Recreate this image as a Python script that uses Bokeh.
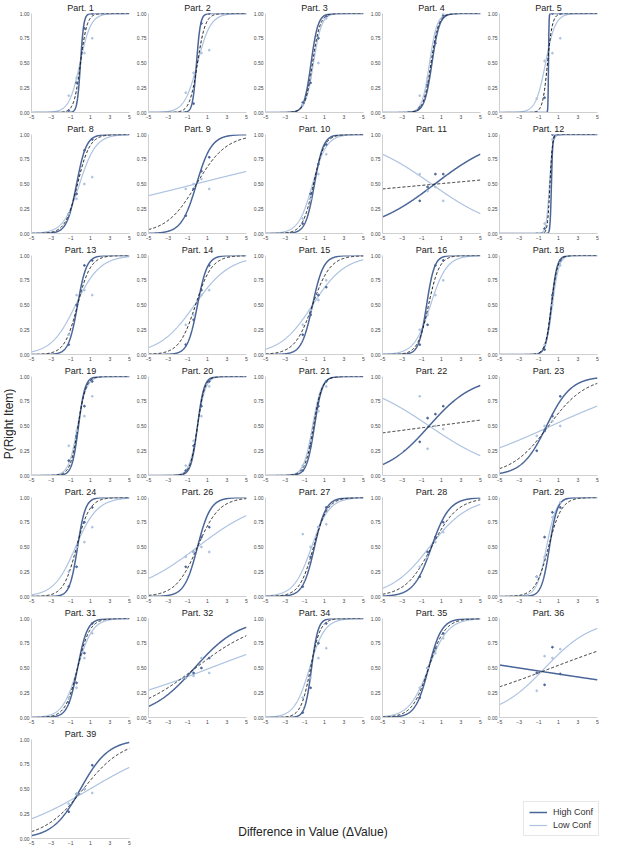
import numpy as np
from bokeh.plotting import figure
from bokeh.layouts import row, column
from bokeh.models import Range1d, FixedTicker, NumeralTickFormatter, Label, Legend, LegendItem
from bokeh.embed import file_html
from bokeh.resources import INLINE

# ---------------- data ----------------
panel_ids = [1, 2, 3, 4, 5, 8, 9, 10, 11, 12, 13, 14, 15, 16, 18, 19, 20, 21, 22, 23,
             24, 26, 27, 28, 29, 31, 32, 34, 35, 36, 39]

# logistic fit parameters: slope k and midpoint m, p = 1/(1+exp(-k(x-m)))
high_k = [6.0, 5.0, 2.8, 2.6, 40.0, 2.0, 1.3, 2.2, 0.30, 15.0, 2.2, 2.0, 1.8, 2.5, 3.5, 3.0, 3.0, 2.5, 0.44, 0.80,
          2.5, 1.5, 1.7, 1.1, 2.5, 2.0, 0.44, 3.0, 1.5, -0.061, 0.70]
high_m = [0.0, -0.1, -0.35, 0.05, 0.0, -0.4, -0.1, 0.0, 0.34, 0.3, -0.3, 0.0, -0.2, -0.5, 0.3, -0.2, 0.0, 0.0, -0.25, -0.2,
          -0.3, 0.0, 0.0, 0.0, 0.1, -0.3, -0.3, -0.3, -0.3, -3.0, 0.0]
low_k = [1.8, 1.5, 2.4, 2.6, 2.0, 1.2, 0.10, 1.4, -0.277, 6.0, 0.8, 0.55, 0.6, 1.2, 3.0, 2.2, 2.4, 2.2, -0.266, 0.18,
         0.9, 0.30, 1.1, 0.5, 2.0, 1.3, 0.152, 1.3, 1.0, 0.41, 0.233]
low_m = [-0.05, 0.0, -0.1, -0.2, -0.3, -0.1, -0.2, -0.2, 0.0, 0.1, -0.5, -0.3, -0.2, -0.1, 0.4, -0.3, 0.0, -0.2, -0.23, 0.25,
         -0.5, 0.0, -0.3, -0.2, -0.2, -0.3, 1.3, -0.5, -0.3, -0.37, 0.97]
all_k = [3.0, 2.5, 2.6, 2.6, 4.0, 1.6, 0.65, 1.8, 0.036, 8.0, 1.5, 1.2, 1.1, 1.8, 3.2, 2.5, 2.7, 2.3, 0.052, 0.52,
         1.5, 0.9, 1.4, 0.75, 1.5, 1.6, 0.30, 2.0, 1.2, 0.151, 0.49]
all_m = [0.0, 0.0, -0.2, -0.05, -0.1, -0.3, -0.1, -0.1, 0.55, 0.15, -0.3, -0.2, -0.2, -0.3, 0.3, -0.25, 0.0, -0.1, 0.38, 0.0,
         -0.4, 0.0, -0.1, 0.0, 0.0, -0.3, -0.2, -0.4, -0.3, 0.3, 0.29]

# binned observations (value-difference bins)
bin_x = [-1.2, -0.4, 0.4, 1.2]
high_pts = [
    [0.02, 0.30, 0.85, 1.00], [0.00, 0.09, 0.90, 1.00], [0.10, 0.30, 0.75, 0.97], [0.05, 0.28, 0.70, 0.98],
    [0.00, 0.15, 1.00, 1.00], [0.20, 0.40, 0.84, 0.95], [0.18, 0.45, 0.63, 0.77], [0.10, 0.40, 0.70, 0.90],
    [0.33, 0.47, 0.60, 0.60], [0.00, 0.05, 1.00, 1.00], [0.10, 0.50, 0.90, 0.95], [0.10, 0.35, 0.65, 0.90],
    [0.20, 0.40, 0.60, 0.68], [0.10, 0.30, 0.90, 0.95], [0.00, 0.05, 0.60, 0.95], [0.15, 0.40, 0.70, 0.95],
    [0.05, 0.30, 0.70, 0.95], [0.05, 0.30, 0.70, 0.95], [0.34, 0.58, 0.62, 0.70], [0.25, 0.45, 0.60, 0.80],
    [0.10, 0.30, 0.75, 0.90], [0.30, 0.45, 0.60, 0.70], [0.10, 0.40, 0.70, 0.90], [0.20, 0.45, 0.60, 0.75],
    [0.20, 0.60, 0.85, 0.90], [0.15, 0.35, 0.65, 0.95], [0.40, 0.45, 0.50, 0.60], [0.05, 0.30, 0.75, 0.95],
    [0.20, 0.50, 0.70, 0.85], [0.45, 0.33, 0.71, 0.44], [0.27, 0.45, 0.50, 0.74],
]
low_pts = [
    [0.17, 0.35, 0.60, 0.75], [0.20, 0.40, 0.60, 0.63], [0.08, 0.35, 0.50, 0.95], [0.17, 0.35, 0.80, 1.00],
    [0.14, 0.52, 0.60, 0.75], [0.20, 0.35, 0.50, 0.57], [0.45, 0.50, 0.55, 0.45], [0.15, 0.35, 0.60, 0.80],
    [0.60, 0.43, 0.47, 0.33], [0.00, 0.10, 0.95, 1.00], [0.20, 0.60, 0.65, 0.60], [0.30, 0.40, 0.60, 0.65],
    [0.30, 0.45, 0.55, 0.75], [0.25, 0.40, 0.60, 0.75], [0.00, 0.10, 0.50, 0.90], [0.30, 0.45, 0.60, 0.80],
    [0.10, 0.35, 0.60, 0.90], [0.10, 0.35, 0.65, 0.90], [0.80, 0.27, 0.50, 0.47], [0.40, 0.50, 0.55, 0.50],
    [0.25, 0.50, 0.55, 0.70], [0.40, 0.45, 0.50, 0.45], [0.63, 0.50, 0.70, 0.73], [0.30, 0.40, 0.55, 0.65],
    [0.20, 0.40, 0.80, 0.95], [0.20, 0.30, 0.60, 0.85], [0.40, 0.42, 0.60, 0.45], [0.20, 0.40, 0.60, 0.70],
    [0.30, 0.50, 0.65, 0.80], [0.27, 0.62, 0.60, 0.69], [0.35, 0.45, 0.50, 0.46],
]

x_ticks = [-5, -3, -1, 1, 3, 5]
y_ticks = [0.0, 0.25, 0.5, 0.75, 1.0]
x_label = "Difference in Value (\u0394Value)"
y_label = "P(Right Item)"
legend_labels = ["High Conf", "Low Conf"]

# ---------------- style ----------------
HIGH = "#4a6598"
LOW = "#adc3e0"
FONT = "Liberation Sans"
YLW = 16
PW, PH = 117, 121
NCOL = 5

xs = np.linspace(-5, 5, 301)


def logistic(k, m):
    return 1.0 / (1.0 + np.exp(-k * (xs - m)))


def make_panel(i):
    p = figure(width=PW, height=PH, x_range=Range1d(-5, 5), y_range=Range1d(0, 1.0),
               output_backend="svg", toolbar_location=None, title=f"Part. {panel_ids[i]}",
               min_border_left=14, min_border_right=4, min_border_top=0, min_border_bottom=0)
    p.title.align = "center"
    p.title.text_font = FONT
    p.title.text_font_size = "9px"
    p.title.text_font_style = "normal"
    p.title.text_color = "#222222"
    p.title.standoff = 1
    p.title.offset = 0
    p.outline_line_color = None
    p.grid.visible = False
    p.background_fill_color = "white"
    p.xaxis.ticker = FixedTicker(ticks=x_ticks)
    p.yaxis.ticker = FixedTicker(ticks=y_ticks)
    p.yaxis.formatter = NumeralTickFormatter(format="0.00")
    for ax in (p.xaxis, p.yaxis):
        ax.axis_line_color = "#cfcfcf"
        ax.axis_line_width = 1
        ax.major_tick_line_color = None
        ax.minor_tick_line_color = None
        ax.major_label_text_font = FONT
        ax.major_label_text_font_size = "5px"
        ax.major_label_text_color = "#444444"
        ax.major_label_standoff = 2
        ax.major_tick_out = 0
        ax.major_tick_in = 0

    p.line(xs, logistic(low_k[i], low_m[i]), color=LOW, line_width=1.2)
    p.line(xs, logistic(high_k[i], high_m[i]), color=HIGH, line_width=1.5)
    p.line(xs, logistic(all_k[i], all_m[i]), color="#1a1a1a", line_width=1, line_dash="3 2")
    p.scatter(bin_x, high_pts[i], size=1.8, color=HIGH)
    p.scatter(bin_x, low_pts[i], size=1.8, color=LOW)
    return p


panels = [make_panel(i) for i in range(len(panel_ids))]

# blank area on the last row holding the x label and legend
BW = PW * (NCOL - 1)
blank = figure(width=BW, height=PH, x_range=Range1d(0, BW), y_range=Range1d(0, PH),
               output_backend="svg", toolbar_location=None,
               min_border_left=0, min_border_right=0, min_border_top=0, min_border_bottom=0)
blank.axis.visible = False
blank.grid.visible = False
blank.outline_line_color = None
# legend proxies kept outside the visible range
r_hi = blank.line([-20, -10], [-20, -10], color=HIGH, line_width=1.5)
r_lo = blank.line([-20, -10], [-20, -10], color=LOW, line_width=1.2)
leg = Legend(items=[LegendItem(label=legend_labels[0], renderers=[r_hi]),
                    LegendItem(label=legend_labels[1], renderers=[r_lo])],
             location="bottom_right")
leg.label_text_font = FONT
leg.label_text_font_size = "9px"
leg.label_text_color = "#333333"
leg.border_line_color = "#d0d0d0"
leg.glyph_width = 18
leg.glyph_height = 10
leg.label_height = 10
leg.spacing = 3
leg.padding = 5
leg.margin = 2
leg.label_standoff = 6
blank.add_layout(leg)
# x label centred on the whole grid
blank.add_layout(Label(x=(NCOL * PW) / 2 - PW + 4, y=0, text=x_label, text_align="center",
                       text_baseline="bottom", text_font=FONT, text_font_size="12px",
                       text_color="#222222"))

# y label strip
ylab = figure(width=YLW, height=PH * 7, x_range=Range1d(0, 1), y_range=Range1d(0, 1),
              output_backend="svg", toolbar_location=None,
              min_border_left=0, min_border_right=0, min_border_top=0, min_border_bottom=0)
ylab.axis.visible = False
ylab.grid.visible = False
ylab.outline_line_color = None
ylab.add_layout(Label(x=0.5, y=0.5, text=y_label, angle=np.pi / 2, text_align="center",
                      text_baseline="middle", text_font=FONT, text_font_size="12px",
                      text_color="#222222"))

rows = []
for r in range(7):
    figs = panels[r * NCOL:(r + 1) * NCOL]
    if r == 6:
        figs = figs + [blank]
    rows.append(row(*figs, spacing=0))
grid = column(*rows, spacing=0)
layout = row(ylab, grid, spacing=0)

open("out.html", "w").write(file_html(layout, INLINE))
